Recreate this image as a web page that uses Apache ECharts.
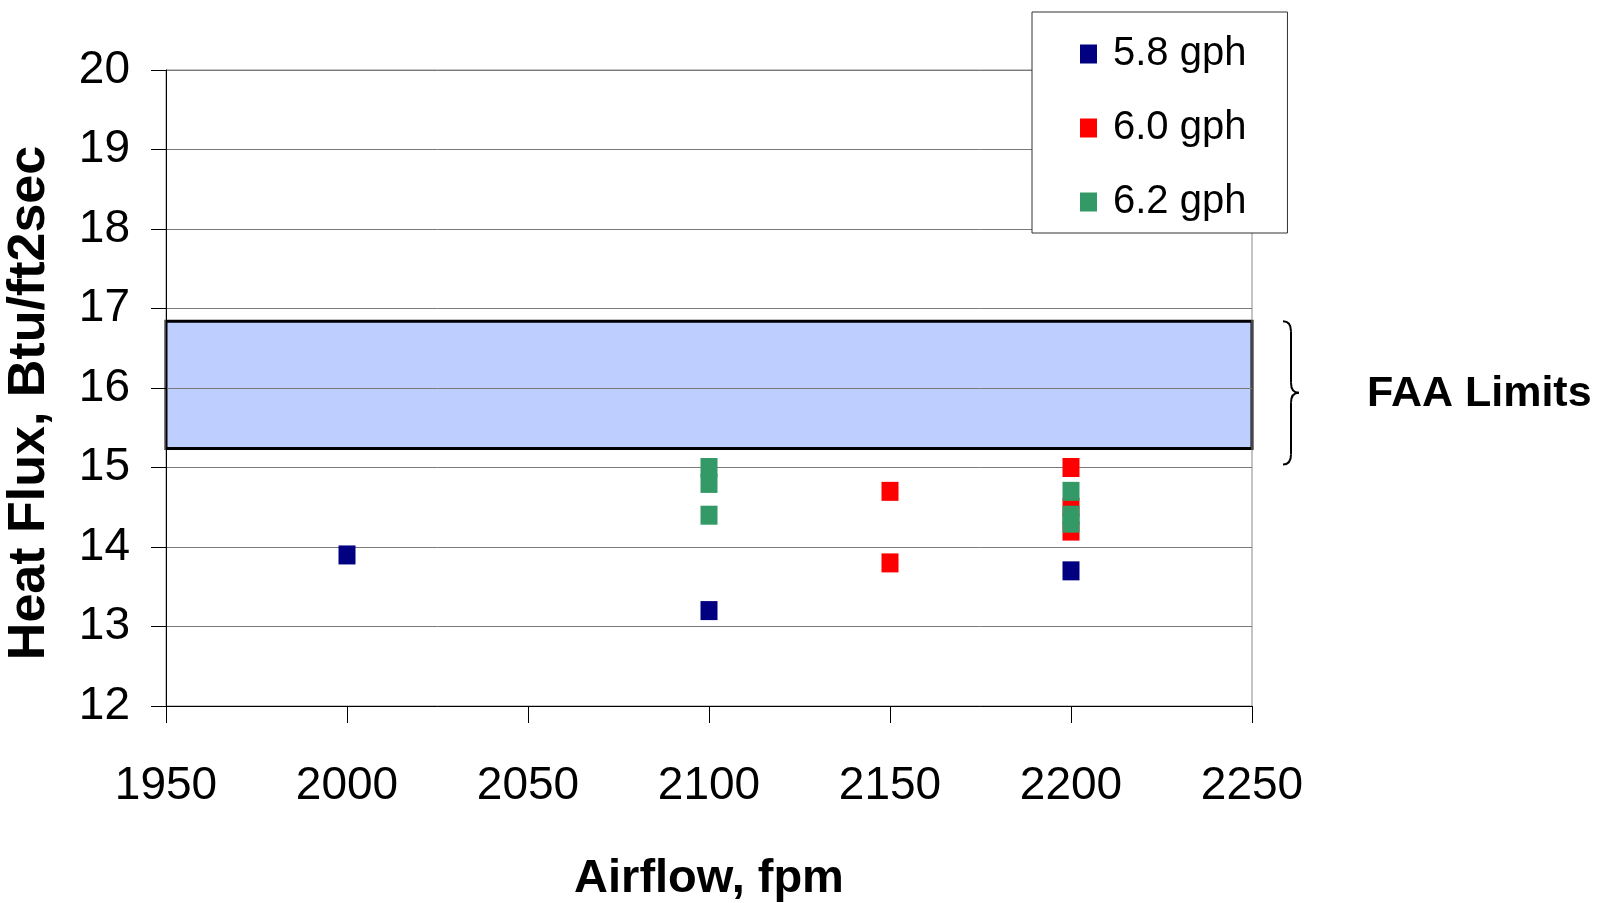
<!DOCTYPE html>
<html>
<head>
<meta charset="utf-8">
<script src="https://cdn.jsdelivr.net/npm/echarts@6/dist/echarts.min.js"></script>
<style>
  html, body { margin: 0; padding: 0; background: #fff; }
  #chart { width: 1597px; height: 903px; }
</style>
</head>
<body>
<div id="chart"></div>
<script>
// Airflow (fpm) vs heat flux (Btu/ft2sec) for three fuel flow rates
const seriesNames = ['5.8 gph', '6.0 gph', '6.2 gph'];
const seriesColors = ['#000080', '#FF0000', '#339966'];

const flow58 = [[2000, 13.9], [2100, 13.2], [2200, 13.7]];
const flow60 = [[2150, 14.7], [2150, 13.8], [2200, 15.0], [2200, 14.5], [2200, 14.2]];
const flow62 = [[2100, 15.0], [2100, 14.8], [2100, 14.4], [2200, 14.7], [2200, 14.4], [2200, 14.3]];

// FAA limit band (heat flux range)
const faaBand = [15.24, 16.84];

const xRange = [1950, 2250];
const xStep = 50;
const yRange = [12, 20];
const yStep = 1;

const FONT = '"Liberation Sans", Arial, sans-serif';

const chart = echarts.init(document.getElementById('chart'), null, { renderer: 'canvas' });

function scatter(name, data, color) {
  return {
    name: name,
    type: 'scatter',
    data: data,
    symbol: 'rect',
    symbolSize: [17, 19],
    itemStyle: { color: color, opacity: 1 },
    emphasis: { disabled: true },
    z: 3
  };
}

const option = {
  backgroundColor: '#ffffff',
  animation: false,
  grid: {
    left: 166, right: 345, top: 70, bottom: 197,
    outerBoundsMode: 'none',
    containLabel: false,
    show: true, borderColor: '#8a8a8a', borderWidth: 1,
    backgroundColor: 'transparent'
  },
  legend: {
    data: seriesNames,
    orient: 'vertical',
    left: 1032, top: 12,
    padding: [22, 41, 11, 48],
    itemGap: 34,
    itemWidth: 17, itemHeight: 19,
    icon: 'rect',
    backgroundColor: '#ffffff',
    borderColor: '#333333', borderWidth: 1,
    borderRadius: 0,
    textStyle: {
      fontFamily: FONT, fontSize: 40, color: '#000',
      padding: [0, 0, 0, 11]
    },
    selectedMode: false
  },
  xAxis: {
    type: 'value',
    min: xRange[0], max: xRange[1], interval: xStep,
    name: 'Airflow, fpm',
    nameLocation: 'middle',
    nameGap: 150,
    nameTextStyle: { fontFamily: FONT, fontSize: 47, fontWeight: 'bold', color: '#000' },
    axisLine: { show: true, onZero: false, lineStyle: { color: '#000', width: 1 } },
    axisTick: { show: true, inside: false, length: 17, lineStyle: { color: '#000' } },
    axisLabel: {
      fontFamily: FONT, fontSize: 46, color: '#000', margin: 57,
      formatter: function (v) { return String(v); }
    },
    splitLine: { show: false }
  },
  yAxis: {
    type: 'value',
    min: yRange[0], max: yRange[1], interval: yStep,
    name: 'Heat Flux, Btu/ft2sec',
    nameLocation: 'middle',
    nameGap: 110,
    nameRotate: 90,
    nameTextStyle: {
      fontFamily: FONT, fontSize: 52, fontWeight: 'bold', color: '#000',
      padding: [0, 30, 0, 0]
    },
    axisLine: { show: true, onZero: false, lineStyle: { color: '#000', width: 1 } },
    axisTick: { show: true, inside: false, length: 15, lineStyle: { color: '#000' } },
    axisLabel: { fontFamily: FONT, fontSize: 46, color: '#000', margin: 36 },
    splitLine: { show: true, lineStyle: { color: '#7a7a7a', width: 1 } }
  },
  series: [
    {
      name: 'FAA Limits',
      type: 'scatter',
      data: [],
      silent: true,
      z: -1,
      markArea: {
        silent: true,
        z: -1,
        itemStyle: { color: '#BDCEFF', borderColor: '#000', borderWidth: 3 },
        data: [[
          { xAxis: xRange[0], yAxis: faaBand[0] },
          { xAxis: xRange[1], yAxis: faaBand[1] }
        ]]
      }
    },
    scatter(seriesNames[0], flow58, seriesColors[0]),
    scatter(seriesNames[1], flow60, seriesColors[1]),
    scatter(seriesNames[2], flow62, seriesColors[2])
  ]
};

chart.setOption(option);

// Curly brace and caption beside the FAA band, placed from the band's own extent
const yTop = chart.convertToPixel({ yAxisIndex: 0 }, faaBand[1]);
const yBot = chart.convertToPixel({ yAxisIndex: 0 }, faaBand[0]);
const xEdge = chart.convertToPixel({ xAxisIndex: 0 }, xRange[1]);
const bx = xEdge + 31;
const bTop = yTop;
const bBot = yBot + 16;
const bMid = (bTop + bBot) / 2;
const w = 16;
const xm = bx + w / 2;
const stroke = { stroke: '#000', lineWidth: 2, fill: 'none' };

function curve(x1, y1, cx, cy, x2, y2) {
  return { type: 'bezierCurve', silent: true,
    shape: { x1: x1, y1: y1, cpx1: cx, cpy1: cy, x2: x2, y2: y2 }, style: stroke };
}
function seg(x1, y1, x2, y2) {
  return { type: 'line', silent: true,
    shape: { x1: x1, y1: y1, x2: x2, y2: y2 }, style: stroke };
}

chart.setOption({
  graphic: [
    curve(bx, bTop, xm, bTop, xm, bTop + 10),
    seg(xm, bTop + 10, xm, bMid - 10),
    curve(xm, bMid - 10, xm, bMid, bx + w, bMid),
    curve(bx + w, bMid, xm, bMid, xm, bMid + 10),
    seg(xm, bMid + 10, xm, bBot - 10),
    curve(xm, bBot - 10, xm, bBot, bx, bBot),
    {
      type: 'text',
      silent: true,
      x: bx + 84,
      y: bMid + 1,
      style: {
        text: 'FAA Limits',
        fontFamily: FONT, fontSize: 43, fontWeight: 'bold',
        fill: '#000', verticalAlign: 'middle', align: 'left'
      }
    }
  ]
});
</script>
</body>
</html>
